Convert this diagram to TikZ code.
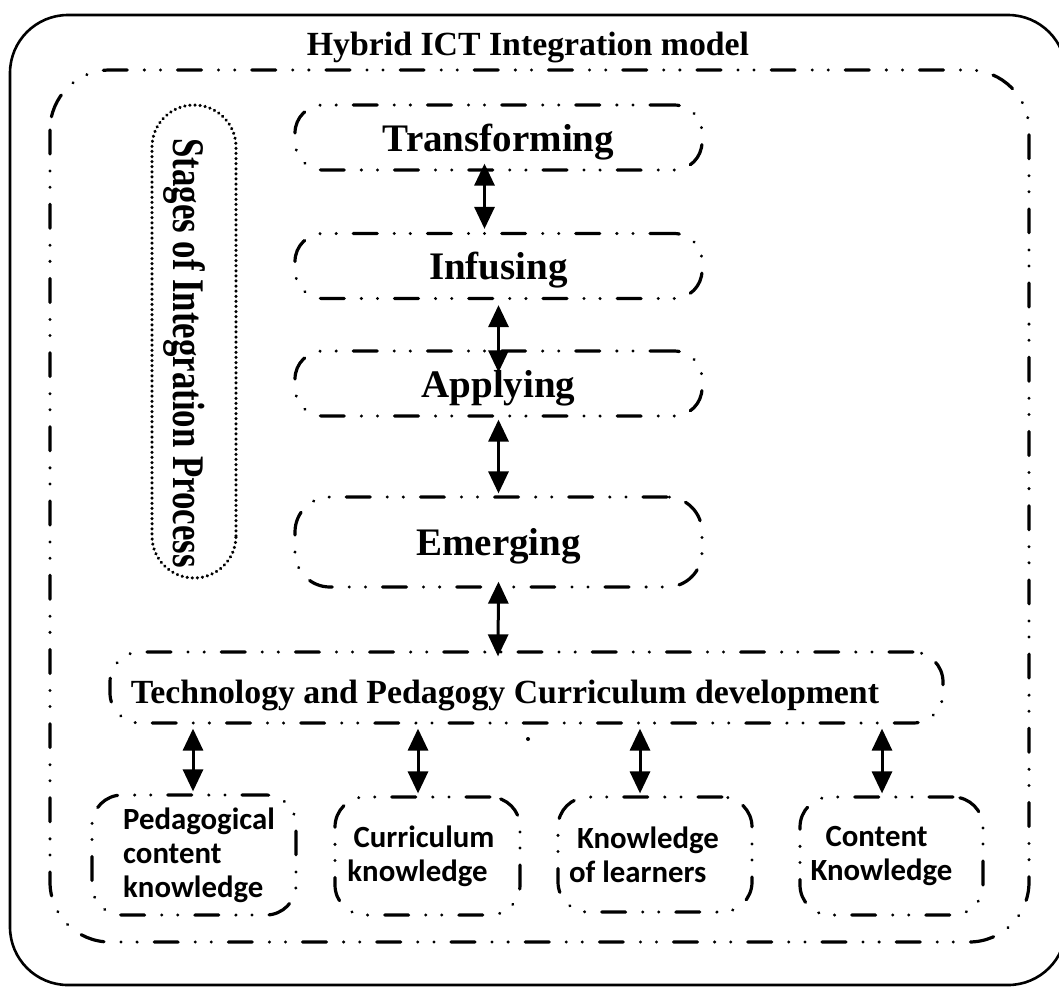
\documentclass[tikz,border=0pt]{standalone}
\usepackage{graphicx}
\usepackage{fontspec}
\setmainfont{Liberation Serif}
\newfontfamily\carl{Carlito}
\usetikzlibrary{arrows.meta}
\begin{document}
\begin{tikzpicture}[x=1pt,y=-1pt,
 dashdot/.style={line width=3.2pt, line cap=round, dash pattern=on 24pt off 17pt on 0.1pt off 16pt on 0.1pt off 17pt},
 stagebox/.style={draw, dashdot, rounded corners=28pt, minimum width=407pt, minimum height=65pt,
   font=\fontsize{39}{44}\selectfont\bfseries, inner sep=0pt, text height=33pt, text depth=6pt},
 kbox/.style={draw, dashdot, rounded corners=30pt, font=\carl\bfseries\fontsize{30.8}{34}\selectfont, inner sep=0pt},
 arr/.style={line width=3pt, {Triangle[width=20pt,length=22pt]}-{Triangle[width=20pt,length=22pt]}}
]
\useasboundingbox (0,0) rectangle (1059,994);
% outer frame
\draw[line width=2.6pt, rounded corners=58pt] (10,15) rectangle (1066,985);
\draw[dashdot, rounded corners=60pt] (50,70) rectangle (1029,942);
\node[font=\fontsize{33.8}{40}\selectfont\bfseries, anchor=base] (title) at (528,55) {Hybrid ICT Integration model};

% stages label
\node[draw, line width=3.4pt, line cap=round, dash pattern=on 0.1pt off 5pt, rounded corners=42pt, rotate=-90,
      minimum width=473pt, minimum height=84pt, inner sep=0pt, text height=52pt, text depth=10pt,
      font=\fontsize{34.8}{40}\selectfont\bfseries]
      (stages) at (194,341.5) {\hspace*{23pt}\scalebox{1}[1.3]{Stages of Integration Process}};

% stage boxes
\node[stagebox] (trans) at (498.5,137.5) {Transforming};
\node[stagebox] (inf) at (498.5,266) {Infusing};
\node[stagebox] (app) at (498.5,383.5) {Applying};
\node[stagebox, minimum height=90pt, rounded corners=35pt] (emer) at (498.5,542) {Emerging};

% tech box
\node[draw, dashdot, rounded corners=30pt, minimum width=833pt, minimum height=71pt, inner sep=0pt,
      text height=37pt, text depth=6pt,
      font=\fontsize{33.8}{40}\selectfont\bfseries] (tech) at (526.5,687.5)
      {Technology and Pedagogy Curriculum development\hspace*{43pt}};
\fill (528,739) circle (2pt);

% knowledge boxes
\node[kbox, minimum width=204pt, minimum height=120pt, align=left] (b1) at (194,855)
  {\hspace*{10pt}Pedagogical\\\hspace*{10pt}content\\\hspace*{10pt}knowledge};
\node[kbox, minimum width=185pt, minimum height=118pt, align=center] (b2) at (427.5,856)
  {Curriculum\hspace*{7pt}\\knowledge\hspace*{20pt}};
\node[kbox, minimum width=194pt, minimum height=115pt, align=left] (b3) at (655,854.5)
  {\hspace*{8pt}Knowledge\hspace*{22pt}\\of learners};
\node[kbox, minimum width=183pt, minimum height=118pt, align=center] (b4) at (891.5,856)
  {Content\hspace*{30pt}\\Knowledge\hspace*{20pt}};

% arrows
\draw[arr] ([xshift=-14pt,yshift=8pt]trans.south) -- ([xshift=-14pt,yshift=3pt]inf.north);
\draw[arr] ([yshift=-5pt]inf.south) -- ([yshift=-23pt]app.north);
\draw[arr] ([yshift=-2pt]app.south) -- ([yshift=2pt]emer.north);
\draw[arr] ([yshift=7pt]emer.south) -- ([xshift=-28.5pt,yshift=-6pt]tech.north);
\draw[arr] ([xshift=-333.5pt,yshift=-4pt]tech.south) -- ([xshift=-1pt,yshift=2pt]b1.north);
\draw[arr] ([xshift=-108.5pt,yshift=-4pt]tech.south) -- ([xshift=-9.5pt,yshift=2pt]b2.north);
\draw[arr] ([xshift=113.5pt,yshift=-4pt]tech.south) -- ([xshift=-15pt,yshift=2pt]b3.north);
\draw[arr] ([xshift=355.5pt,yshift=-4pt]tech.south) -- ([xshift=-9.5pt,yshift=2pt]b4.north);
\end{tikzpicture}
\end{document}
